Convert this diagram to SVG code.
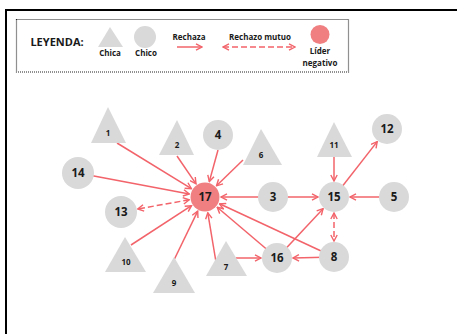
<svg xmlns="http://www.w3.org/2000/svg" width="457" height="334" viewBox="0 0 457 334">
<style>
text{font-family:"Open Sans","Liberation Sans",sans-serif;font-weight:bold;fill:#1a1a1a;text-anchor:middle}
.g{fill:#d9d9d9}
.lead{fill:#ef7f80}
.e{stroke:#f2636a;stroke-width:1.5;fill:none;marker-end:url(#ah)}
.d{stroke:#f2636a;stroke-width:1.5;fill:none;stroke-dasharray:6,3;marker-end:url(#ah);marker-start:url(#ah)}
.n{font-size:11.5px}
.t{font-size:8px}
.lg{font-size:8px}
</style>
<defs>
<marker id="ah" viewBox="0 0 8 8" refX="7" refY="4" markerWidth="8" markerHeight="8" markerUnits="userSpaceOnUse" orient="auto-start-reverse">
<path d="M1,0.8 L7,4 L1,7.2" fill="none" stroke="#f2636a" stroke-width="1.4"/>
</marker>
</defs>
<rect width="457" height="334" fill="#fff"/>
<path d="M6,334 V10 H457" fill="none" stroke="#000" stroke-width="2"/>
<g id="legend">
<rect x="16.5" y="19.5" width="332" height="52.5" fill="none" stroke="#222" stroke-width="1.2" stroke-dasharray="1,1"/>
<text x="57" y="46" style="font-size:11px">LEYENDA:</text>
<polygon points="110,27 98,47 123,47" class="g"/>
<text x="110" y="56" class="lg">Chica</text>
<circle cx="145" cy="37" r="11" class="g"/>
<text x="146" y="56" class="lg">Chico</text>
<text x="189" y="40" class="lg">Rechaza</text>
<line x1="177" y1="47" x2="202" y2="47" class="e"/>
<text x="260" y="40" class="lg">Rechazo mutuo</text>
<line x1="223" y1="47" x2="295" y2="47" class="d"/>
<circle cx="320" cy="34.5" r="9.5" class="lead"/>
<text x="320" y="54" class="lg">Líder</text>
<text x="320" y="66" class="lg">negativo</text>
</g>
<g id="connectors">
<line x1="117" y1="143" x2="191.4" y2="188.6" class="e"/>
<line x1="177" y1="156" x2="196" y2="183.8" class="e"/>
<line x1="218" y1="150" x2="209.3" y2="181.6" class="e"/>
<line x1="243" y1="160" x2="216.5" y2="185.8" class="e"/>
<line x1="78" y1="173" x2="189.3" y2="194" class="e"/>
<line x1="189.2" y1="199.8" x2="137.7" y2="209" class="d"/>
<line x1="273" y1="197" x2="221" y2="197" class="e"/>
<line x1="273" y1="197" x2="318" y2="197" class="e"/>
<line x1="394" y1="197" x2="350" y2="197" class="e"/>
<line x1="334" y1="150" x2="334" y2="181" class="e"/>
<line x1="334" y1="197" x2="377.2" y2="141.6" class="e"/>
<line x1="334" y1="213" x2="334" y2="241" class="d"/>
<line x1="334" y1="257" x2="293" y2="258" class="e"/>
<line x1="236" y1="258" x2="261" y2="258" class="e"/>
<line x1="277" y1="258" x2="323.1" y2="208.7" class="e"/>
<line x1="277" y1="258" x2="217.2" y2="207.3" class="e"/>
<line x1="334" y1="257" x2="219.5" y2="203.8" class="e"/>
<line x1="216" y1="262" x2="207.8" y2="212.8" class="e"/>
<line x1="174" y1="260" x2="197.7" y2="211.2" class="e"/>
<line x1="131" y1="245" x2="191.5" y2="205.7" class="e"/>
</g>
<g id="n1"><polygon points="108,107 91,143 126,143" class="g"/><text x="108" y="136" class="t">1</text></g>
<g id="n2"><polygon points="177,120 159,155 194,155" class="g"/><text x="177" y="148" class="t">2</text></g>
<g id="n4"><circle cx="218" cy="135" r="15" class="g"/><text x="218" y="139" class="n">4</text></g>
<g id="n6"><polygon points="261,129 243,165 282,165" class="g"/><text x="261" y="158" class="t">6</text></g>
<g id="n14"><circle cx="78" cy="173" r="16" class="g"/><text x="78" y="177" class="n">14</text></g>
<g id="n13"><circle cx="121" cy="212" r="16" class="g"/><text x="121" y="216" class="n">13</text></g>
<g id="n11"><polygon points="334,122 317,157 352,157" class="g"/><text x="334" y="148" class="t">11</text></g>
<g id="n12"><circle cx="387" cy="129" r="15" class="g"/><text x="387" y="133" class="n">12</text></g>
<g id="n3"><circle cx="273" cy="197" r="15" class="g"/><text x="273" y="201" class="n">3</text></g>
<g id="n15"><circle cx="334" cy="197" r="15" class="g"/><text x="334" y="201" class="n">15</text></g>
<g id="n5"><circle cx="394" cy="197" r="15" class="g"/><text x="394" y="201" class="n">5</text></g>
<g id="n17"><circle cx="205" cy="197" r="14.5" class="lead"/><text x="205" y="201" class="n">17</text></g>
<g id="n10"><polygon points="125,237 105,272 146,272" class="g"/><text x="126" y="265" class="t">10</text></g>
<g id="n9"><polygon points="174,257 153,293 195,293" class="g"/><text x="174" y="286" class="t">9</text></g>
<g id="n7"><polygon points="226,241 206,276 247,276" class="g"/><text x="226" y="270" class="t">7</text></g>
<g id="n16"><circle cx="277" cy="258" r="15" class="g"/><text x="277" y="262" class="n">16</text></g>
<g id="n8"><circle cx="334" cy="257" r="15" class="g"/><text x="334" y="261" class="n">8</text></g>
</svg>
